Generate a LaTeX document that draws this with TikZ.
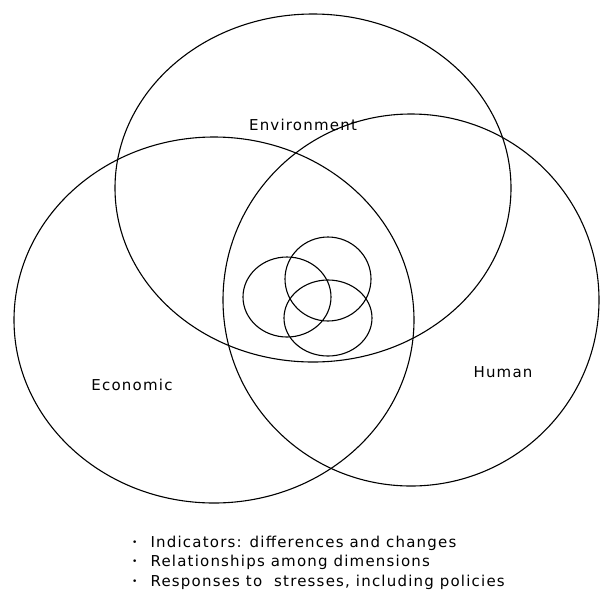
\documentclass[tikz,border=0pt]{standalone}
\usepackage{fontspec}
\setmainfont{DejaVu Sans}
\usepackage{tikz}
\usetikzlibrary{positioning}

\begin{document}
\begin{tikzpicture}[x=1pt, y=-1pt, line width=1.1pt,
    etiq/.style={inner sep=0pt, font=\fontsize{15}{17}\selectfont\addfontfeature{LetterSpace=8}},
    puce/.style={inner sep=0pt, font=\fontsize{9}{10}\selectfont}]

        \useasboundingbox (0,0) rectangle (600,598);

        % Grandes ellipses
        \draw (313,188) ellipse [x radius=198, y radius=174];
        \draw (214,320) ellipse [x radius=200, y radius=183];
        \draw (411,300) ellipse [x radius=188, y radius=186];

        % Petits cercles
        \draw (328,279) ellipse [x radius=43, y radius=42];
        \draw (287,297) ellipse [x radius=44, y radius=40];
        \draw (328,318) ellipse [x radius=44, y radius=38];

        % Noeuds (etiquettes)
        \node [etiq] (env) at (303,125) {Environment};
        \node [etiq] (eco) at (132,385) {Economic};
        \node [etiq] (hum) at (503,372) {Human};

        % Liste
        \node [etiq, anchor=west] (l1) at (150,543) {Indicators: differences and changes};
        \node [etiq, below=4pt of l1.south west, anchor=north west] (l2) {Relationships among dimensions};
        \node [etiq, below=4pt of l2.south west, anchor=north west] (l3) {Responses to \ stresses, including policies};
        \node [puce, left=12pt of l1] (p1) {•};
        \node [puce, left=12pt of l2] (p2) {•};
        \node [puce, left=12pt of l3] (p3) {•};

    \end{tikzpicture}
\end{document}
